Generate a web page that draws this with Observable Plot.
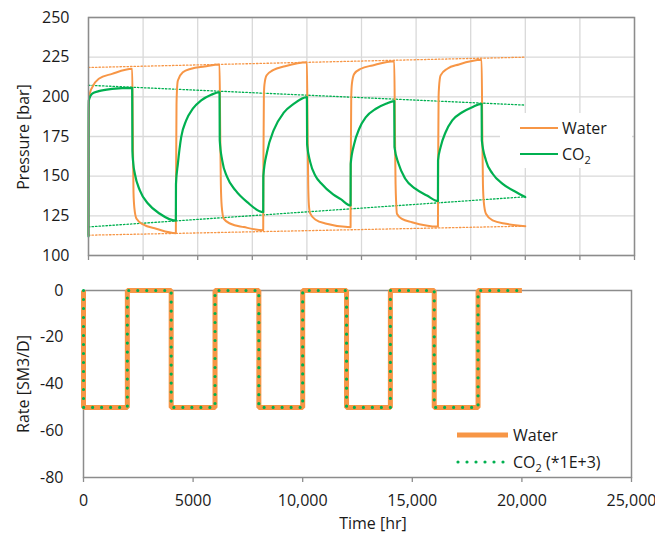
<!DOCTYPE html>
<html><head><meta charset="utf-8">
<script src="https://cdn.jsdelivr.net/npm/d3@7"></script>
<script src="https://cdn.jsdelivr.net/npm/@observablehq/plot@0.6"></script>
<style>
body{margin:0;background:#fff}
#chart{position:relative;width:655px;height:534px;background:#fff}
#chart svg{display:block}
</style>
</head><body><div id="chart"></div>
<script>
// ---------- DATA ----------
const waterT = [0,5,20,60,170,470,1080,2000,
  2030,2060,2100,2200,2500,3100,4000,
  4010,4030,4050,4092,4320,4702,5312,6000,
  6030,6060,6100,6198,6504,7115,8000,
  8010,8030,8055,8150,8450,9000,10000,
  10030,10060,10090,10150,10400,10900,12000,
  12010,12030,12060,12168,12473,13007,14000,
  14030,14060,14090,14122,14351,14809,16000,
  16010,16030,16050,16122,16427,16961,18000,
  18030,18060,18100,18198,18504,19114,20000];
const waterP = [113,175,198,202,206,211.4,214.5,217.7,
  180,140,130,123.1,119.6,116.9,114.1,
  150,195,204,210.3,215.5,217.7,219.1,220.4,
  180,145,131,123.1,120,117.9,115.9,
  160,200,207.5,213.5,216.8,219.3,221.8,
  180,145,132,126.5,122.5,120,117.8,
  160,200,208.2,214.5,217.7,219.8,222.5,
  180,145,132.6,126.3,123.1,121,118.2,
  160,200,206.1,213.5,217.7,220.4,223.3,
  180,145,133.6,126.3,122.1,120,118.5];

const co2T = [0,5,15,170,470,1080,2000,
  2010,2050,2122,2351,2733,3267,4000,
  4005,4092,4244,4473,4778,5160,5618,6000,
  6010,6122,6351,6732,7267,8000,
  8005,8180,8480,8940,9390,10000,
  10010,10150,10400,10650,11200,11550,12000,
  12005,12168,12397,12702,13160,13618,14000,
  14010,14198,14504,14962,15496,16000,
  16005,16122,16351,16656,17114,17572,18000,
  18010,18198,18504,18962,19572,20000];
const co2P = [112,190,197.7,202,203.6,205,205.7,
  166,158,151.5,141,132.6,126.3,121.9,
  145,157.8,174.6,185.1,192.5,197.7,201.3,202.9,
  172.5,159.9,149.4,141,133.6,127.3,
  150,165.5,179,190,195.5,199.8,
  170,159,150,145.5,138.5,135.5,131.5,
  157.8,170.4,179.9,187.2,192.5,195.6,197.3,
  168.3,157.8,148.4,142.1,137.8,134.3,
  159.9,168.3,177.7,185.1,190.3,193.5,195.6,
  172.5,159.9,151.5,145.2,140,136.8];

// dotted trend lines (start / end)
const trendT = [0, 20000];
const waterHigh = [218.5, 225];
const waterLow = [112.8, 118.5];
const co2High = [207.3, 194.8];
const co2Low = [118, 137];

// injection rates (step)
const rateT = [0,0,2000,4000,6000,8000,10000,12000,14000,16000,18000,20000];
const waterRate = [0,-50,0,-50,0,-50,0,-50,0,-50,0,0];
const co2Rate = [0,-50,0,-50,0,-50,0,-50,0,-50,0,0];

// ticks
const pTicks = [100,125,150,175,200,225,250];
const xGridTop = [0,2500,5000,7500,10000,12500,15000,17500,20000,22500,25000];
const rTicks = [0,-20,-40,-60,-80];
const rTickLabels = ["0","-20","-40","-60","-80"];
const xTicks = [0,5000,10000,15000,20000,25000];
const xTickLabels = ["0","5000","10,000","15,000","20,000","25,000"];

// ---------- STYLE ----------
const ORANGE = "#F79646";
const GREEN = "#00B050";
const GRID = "#d9d9d9";
const AXIS = "#8c8c8c";
const FONT = "'Open Sans', sans-serif";
const TXT = "#1a1a1a";
const DOT = "1.5,2";

const topChart = Plot.plot({
  width: 655, height: 270,
  marginLeft: 88, marginRight: 21, marginTop: 17, marginBottom: 15,
  style: {fontFamily: FONT, fontSize: "16px", color: TXT, background: "white", overflow: "visible"},
  x: {domain: [0, 25000]},
  y: {domain: [100, 250]},
  marks: [
    Plot.gridX(xGridTop, {stroke: GRID, strokeOpacity: 1, strokeWidth: 1.3}),
    Plot.gridY(pTicks, {stroke: GRID, strokeOpacity: 1, strokeWidth: 1.3}),
    Plot.axisY(pTicks, {tickSize: 0, tickPadding: 19, label: null, fill: TXT}),
    Plot.axisX(xGridTop, {tickSize: 5, tickFormat: () => "", label: null, stroke: AXIS, strokeWidth: 1.3}),
    Plot.line(trendT, {x: trendT, y: waterHigh, stroke: ORANGE, strokeWidth: 1.3, strokeDasharray: DOT}),
    Plot.line(trendT, {x: trendT, y: waterLow, stroke: ORANGE, strokeWidth: 1.3, strokeDasharray: DOT}),
    Plot.line(trendT, {x: trendT, y: co2High, stroke: GREEN, strokeWidth: 1.3, strokeDasharray: DOT}),
    Plot.line(trendT, {x: trendT, y: co2Low, stroke: GREEN, strokeWidth: 1.3, strokeDasharray: DOT}),
    Plot.line(waterT, {x: waterT, y: waterP, stroke: ORANGE, strokeWidth: 2, curve: "monotone-x"}),
    Plot.line(co2T, {x: co2T, y: co2P, stroke: GREEN, strokeWidth: 2.2, curve: "monotone-x"}),
    Plot.frame({stroke: AXIS, strokeWidth: 1.5})
  ]
});

const botChart = Plot.plot({
  width: 655, height: 264,
  marginLeft: 83, marginRight: 24, marginTop: 20, marginBottom: 57,
  style: {fontFamily: FONT, fontSize: "16px", color: TXT, background: "white", overflow: "visible"},
  x: {domain: [0, 25000]},
  y: {domain: [-80, 0]},
  marks: [
    Plot.axisY(rTicks, {tickSize: 0, tickPadding: 20, label: null, fill: TXT,
      tickFormat: d => rTickLabels[rTicks.indexOf(d)]}),
    Plot.axisX(xTicks, {tickSize: 5, tickPadding: 12, label: null, stroke: AXIS, strokeWidth: 1.3, fill: TXT,
      tickFormat: d => xTickLabels[xTicks.indexOf(d)]}),
    Plot.frame({stroke: AXIS, strokeWidth: 1.5}),
    Plot.line(rateT, {x: rateT, y: waterRate, curve: "step-after", stroke: ORANGE, strokeWidth: 5, strokeLinejoin: "miter", strokeLinecap: "butt"}),
    Plot.line(rateT, {x: rateT, y: co2Rate, curve: "step-after", stroke: GREEN, strokeWidth: 3.2, strokeDasharray: "0,9", strokeLinecap: "round"})
  ]
});

const root = document.getElementById("chart");
root.appendChild(topChart);
root.appendChild(botChart);

function addText(svg, x, y, opts = {}) {
  const t = d3.select(svg).append("text")
    .attr("x", x).attr("y", y)
    .attr("font-family", FONT).attr("font-size", 16)
    .attr("fill", TXT)
    .attr("text-anchor", opts.anchor || "start")
    .attr("dominant-baseline", "central");
  if (opts.rotate) t.attr("transform", `rotate(-90 ${x} ${y})`);
  return t;
}
function co2Label(t, suffix) {
  t.append("tspan").text("CO");
  t.append("tspan").text("2").attr("font-size", 11).attr("dy", 5);
  if (suffix) t.append("tspan").text(suffix).attr("dy", -5);
}

// axis titles
addText(topChart, 23, 137, {anchor: "middle", rotate: true}).text("Pressure [bar]");
addText(botChart, 23, 114, {anchor: "middle", rotate: true}).text("Rate [SM3/D]");
addText(botChart, 373, 253, {anchor: "middle"}).text("Time [hr]");

// top legend
const ts = d3.select(topChart);
ts.append("rect").attr("x", 500).attr("y", 113).attr("width", 132).attr("height", 55).attr("fill", "white");
ts.append("line").attr("x1", 520).attr("x2", 558).attr("y1", 128).attr("y2", 128).attr("stroke", ORANGE).attr("stroke-width", 2);
ts.append("line").attr("x1", 520).attr("x2", 558).attr("y1", 154).attr("y2", 154).attr("stroke", GREEN).attr("stroke-width", 2.2);
addText(topChart, 562, 127.5).text("Water");
co2Label(addText(topChart, 562, 153.5), "");

// bottom legend
const bs = d3.select(botChart);
bs.append("line").attr("x1", 457).attr("x2", 508).attr("y1", 165).attr("y2", 165).attr("stroke", ORANGE).attr("stroke-width", 5);
bs.append("line").attr("x1", 458).attr("x2", 506).attr("y1", 192).attr("y2", 192).attr("stroke", GREEN).attr("stroke-width", 3.2)
  .attr("stroke-dasharray", "0,9").attr("stroke-linecap", "round");
addText(botChart, 513, 165).text("Water");
co2Label(addText(botChart, 513, 191.5), " (*1E+3)");
</script>
</body></html>
